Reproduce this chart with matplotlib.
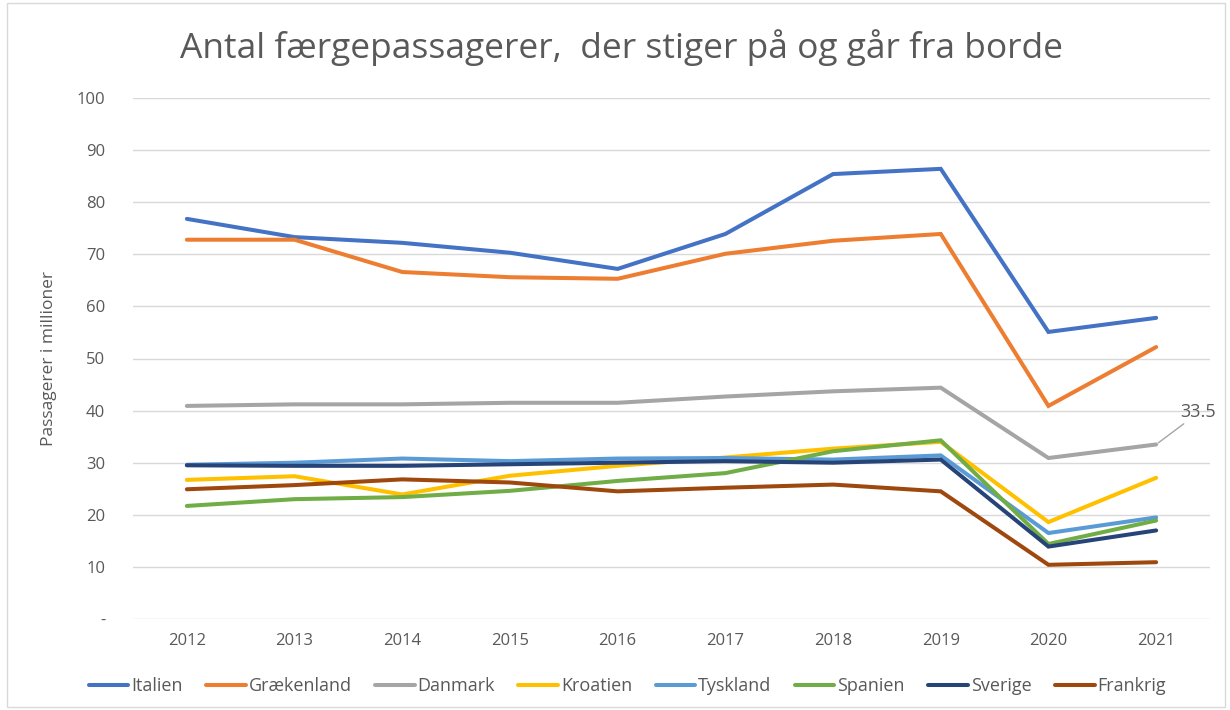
import matplotlib
matplotlib.use("Agg")
import matplotlib.pyplot as plt
from matplotlib.ticker import FixedLocator

years = [2012, 2013, 2014, 2015, 2016, 2017, 2018, 2019, 2020, 2021]
italien = [76.8, 73.3, 72.2, 70.3, 67.2, 73.9, 85.4, 86.4, 55.1, 57.8]
graekenland = [72.8, 72.8, 66.6, 65.6, 65.3, 70.1, 72.6, 73.9, 40.9, 52.2]
danmark = [40.9, 41.2, 41.2, 41.5, 41.5, 42.7, 43.7, 44.4, 30.9, 33.5]
kroatien = [26.7, 27.4, 23.9, 27.5, 29.4, 31.0, 32.7, 34.0, 18.6, 27.1]
tyskland = [29.6, 30.0, 30.8, 30.3, 30.8, 30.9, 30.6, 31.4, 16.5, 19.5]
spanien = [21.7, 23.0, 23.4, 24.6, 26.5, 28.0, 32.2, 34.3, 14.4, 18.9]
sverige = [29.5, 29.4, 29.4, 29.7, 30.0, 30.3, 30.0, 30.6, 13.9, 17.0]
frankrig = [24.9, 25.7, 26.8, 26.2, 24.5, 25.2, 25.8, 24.5, 10.4, 10.9]

series = [
    ("Italien", italien, "#4472C4"),
    ("Grækenland", graekenland, "#ED7D31"),
    ("Danmark", danmark, "#A5A5A5"),
    ("Kroatien", kroatien, "#FFC000"),
    ("Tyskland", tyskland, "#5B9BD5"),
    ("Spanien", spanien, "#70AD47"),
    ("Sverige", sverige, "#264478"),
    ("Frankrig", frankrig, "#9E480E"),
]

y_ticks = [0, 10, 20, 30, 40, 50, 60, 70, 80, 90, 100]
y_tick_labels = ["-", "10", "20", "30", "40", "50", "60", "70", "80", "90", "100"]

plt.rcParams['font.family'] = ['Open Sans', 'DejaVu Sans']
txt = "#595959"

fig = plt.figure(figsize=(12.3, 7.1), dpi=100)
# chart border
fig.patches.append(plt.Rectangle((0.006, 0.004), 0.99, 0.992, transform=fig.transFigure,
                                 fill=False, edgecolor="#D9D9D9", linewidth=1))

ax = fig.add_axes([133/1230, 1 - 619/710, (1210-133)/1230, (619-98)/710])
x = list(range(len(years)))
for name, vals, col in series:
    ax.plot(x, vals, color=col, linewidth=2.9, label=name, solid_capstyle="round",
            solid_joinstyle="miter")

ax.set_xlim(-0.5, len(years) - 0.5)
ax.set_ylim(0, 100)
ax.yaxis.set_major_locator(FixedLocator(y_ticks))
ax.set_yticklabels(y_tick_labels)
ax.set_xticks(x)
ax.set_xticklabels([str(y) for y in years])
for s in ax.spines.values():
    s.set_visible(False)
ax.grid(axis="y", color="#D9D9D9", linewidth=1)
ax.set_axisbelow(True)
ax.tick_params(axis="both", length=0, colors=txt, labelsize=12)
ax.tick_params(axis="y", pad=20)
ax.tick_params(axis="x", pad=10)
for lab in ax.get_yticklabels():
    lab.set_horizontalalignment("right")
ax.set_ylabel("Passagerer i millioner", color=txt, fontsize=12.5)
ax.yaxis.set_label_coords(-76/1077, 0.5)

# data label
ax.annotate(f"{danmark[-1]}", xy=(x[-1], danmark[-1]), xytext=(x[-1] + 0.39, 38.0),
            color=txt, fontsize=13, ha="center", va="bottom",
            arrowprops=dict(arrowstyle="-", color="#A5A5A5", linewidth=1,
                            shrinkA=0, shrinkB=2, relpos=(0.2, 0.0)))

fig.text(0.505, 1 - 48/710, "Antal færgepassagerer,  der stiger på og går fra borde",
         ha="center", va="center", fontsize=25.5, color=txt)

fig.legend(loc="center", bbox_to_anchor=(0.51, 1 - 686/710), ncol=8, frameon=False,
           fontsize=13, handlelength=2.2, handletextpad=0.15, columnspacing=1.3,
           labelcolor=txt)

fig.savefig("out.png", dpi=100)
